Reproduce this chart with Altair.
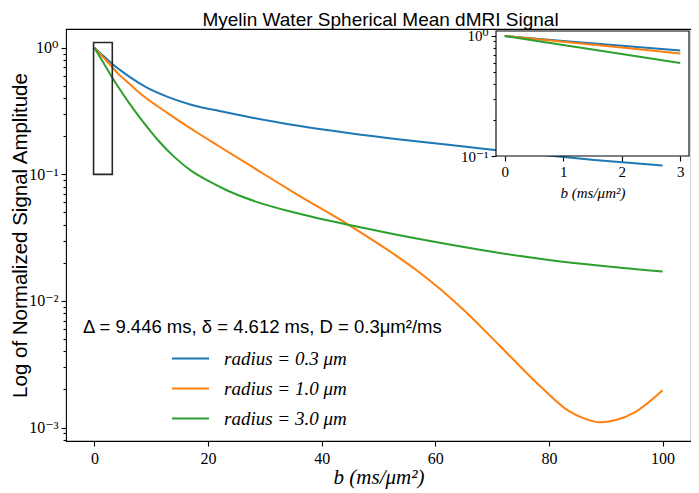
import altair as alt
import pandas as pd

# ---------------- data ----------------
series_names = ["radius = 0.3 μm", "radius = 1.0 μm", "radius = 3.0 μm"]
series_colors = ["#1f77b4", "#ff7f0e", "#2ca02c"]

b_r03 = [0, 1, 2, 3, 4.5, 6, 9, 13, 17, 22, 28, 35, 45, 55, 65, 75, 88, 100]
s_r03 = [1.0, 0.910, 0.828, 0.755, 0.668, 0.596, 0.490, 0.407, 0.355, 0.316,
         0.279, 0.245, 0.211, 0.186, 0.166, 0.148, 0.130, 0.1175]

b_r10 = [0, 1, 2, 3, 4.2, 6, 8.3, 13, 18.2, 21.7, 28.7, 35.7, 45.3, 53.1,
         57, 61, 65, 69, 73, 78.8, 83.4, 86.4, 89, 91.6, 95.1, 100]
s_r10 = [1.0, 0.893, 0.800, 0.714, 0.622, 0.527, 0.427, 0.302, 0.212,
         0.169, 0.108, 0.0692, 0.0385, 0.0228, 0.01706, 0.01225, 0.00847,
         0.00565, 0.00372, 0.00205, 0.00136, 0.00117, 0.00110, 0.00114,
         0.00132, 0.00197]

b_r30 = [0, 1, 2, 3, 4.2, 6, 8.3, 11.2, 14, 17, 20, 23, 28.7, 35, 45.3, 53, 62,
         70, 80, 90, 100]
s_r30 = [1.0, 0.841, 0.708, 0.596, 0.490, 0.372, 0.269, 0.186, 0.138, 0.107,
         0.0891, 0.0759, 0.0603, 0.0501, 0.0394, 0.0335, 0.0282, 0.0245,
         0.0211, 0.0188, 0.0171]

x_ticks = [0, 20, 40, 60, 80, 100]
y_ticks = [1, 0.1, 0.01, 0.001]
y_minor = [k * 10.0 ** e for e in (-4, -3, -2, -1) for k in range(2, 10)]

inset_x_ticks = [0, 1, 2, 3]
inset_y_ticks = [1, 0.1]
inset_y_minor = [0.2, 0.3, 0.4, 0.5, 0.6, 0.7, 0.8, 0.9]

main_xlim = [-5, 105]
main_ylim = [0.000783, 1.406]
inset_xlim = [-0.15, 3.15]
inset_ylim = [0.1, 1.1]

title_text = "Myelin Water Spherical Mean dMRI Signal"
y_title = "Log of Normalized Signal Amplitude"
x_title = "b (ms/μm²)"
annot_text = "Δ = 9.446 ms, δ = 4.612 ms, D = 0.3μm²/ms"

# ---------------- tables ----------------
rows = []
for name, bs, ss in zip(series_names, [b_r03, b_r10, b_r30], [s_r03, s_r10, s_r30]):
    for b, s in zip(bs, ss):
        rows.append({"b": b, "signal": s, "series": name})
df = pd.DataFrame(rows)
inset_df = df[df["b"] <= 3].reset_index(drop=True)
lim_df = pd.DataFrame({"x0": [inset_xlim[0]], "x1": [inset_xlim[1]],
                       "y0": [inset_ylim[0]], "y1": [inset_ylim[1]]})
annot_df = pd.DataFrame({"t": [annot_text]})
title_df = pd.DataFrame({"t": [title_text]})

# ---------------- geometry / style ----------------
W, H = 625, 412
INSET_X = [430, 623]
INSET_Y = [127, 2]
SERIF = "Liberation Serif, DejaVu Serif, serif"
SANS = "Liberation Sans, Arial, sans-serif"

sup_expr = ("'10' + (round(log(datum.value)/LN10) == 0 ? '⁰' : "
            "round(log(datum.value)/LN10) == -1 ? '⁻¹' : "
            "round(log(datum.value)/LN10) == -2 ? '⁻²' : '⁻³')")


def xs():
    return alt.Scale(domain=main_xlim, nice=False, zero=False)


def ys():
    return alt.Scale(type="log", domain=main_ylim, nice=False)


def ixs():
    return alt.Scale(domain=inset_xlim, range=INSET_X, nice=False, zero=False)


def iys():
    return alt.Scale(type="log", domain=inset_ylim, range=INSET_Y, nice=False)


cs = alt.Scale(domain=series_names, range=series_colors)

tick_style = dict(tickColor="black", tickWidth=1.1, domain=False, grid=False,
                  labelColor="black", labelFont=SERIF)

# ---------------- main panel ----------------
main_lines = alt.Chart(df).mark_line(strokeWidth=2, interpolate="monotone").encode(
    x=alt.X("b:Q", scale=xs(),
            axis=alt.Axis(orient="bottom", values=x_ticks, tickSize=5, labelFontSize=16,
                          labelPadding=4, title=x_title, titleFont=SERIF,
                          titleFontStyle="italic", titleFontWeight="normal",
                          titleFontSize=21, titleColor="black", titlePadding=0,
                          **tick_style)),
    y=alt.Y("signal:Q", scale=ys(),
            axis=alt.Axis(orient="left", values=y_ticks, labelExpr=sup_expr, tickSize=5,
                          labelFontSize=16, labelPadding=3,
                          title=y_title, titleFont=SANS, titleFontWeight="normal",
                          titleFontSize=20.5, titleColor="black", titleAngle=-90,
                          titleX=-46, titleY=H / 2, titleBaseline="middle",
                          titleAlign="center", **tick_style)),
    color=alt.Color("series:N", scale=cs,
                    legend=alt.Legend(orient="none", legendX=105, legendY=310, title=None,
                                      symbolType="stroke", symbolSize=1369,
                                      symbolStrokeWidth=2, labelFont=SERIF,
                                      labelFontStyle="italic", labelFontSize=19,
                                      labelColor="black", labelOffset=14,
                                      rowPadding=0, padding=0)),
)

main_minor = alt.Chart(df).mark_point(opacity=0).encode(
    x=alt.X("b:Q", scale=xs(), axis=None),
    y=alt.Y("signal:Q", scale=ys(),
            axis=alt.Axis(orient="left", values=y_minor, labels=False, tickSize=3,
                          title=None, **tick_style)),
)

zoom_box = alt.Chart(lim_df).mark_rect(fillOpacity=0, stroke="#262626", strokeWidth=1.6).encode(
    x=alt.X("x0:Q", scale=xs(), axis=None), x2="x1:Q",
    y=alt.Y("y0:Q", scale=ys(), axis=None), y2="y1:Q",
)

annot = alt.Chart(annot_df).mark_text(align="left", baseline="middle", font=SANS,
                                      fontSize=18.5, color="black").encode(
    text="t:N", x=alt.value(17), y=alt.value(297.5)
)

title = alt.Chart(title_df).mark_text(align="center", baseline="alphabetic", font=SANS,
                                      fontSize=19, color="black").encode(
    text="t:N", x=alt.value(W / 2 + 2), y=alt.value(-3.5)
)

# ---------------- inset panel ----------------
inset_bg = alt.Chart(lim_df).mark_rect(fill="white", stroke="black", strokeWidth=1.1).encode(
    x=alt.X("x0:Q", scale=ixs(), axis=None), x2="x1:Q",
    y=alt.Y("y0:Q", scale=iys(), axis=None), y2="y1:Q",
)

inset_lines = alt.Chart(inset_df).mark_line(strokeWidth=2).encode(
    x=alt.X("b:Q", scale=ixs(),
            axis=alt.Axis(orient="bottom", offset=INSET_Y[0] - H, values=inset_x_ticks,
                          tickSize=5, labelFontSize=15, labelPadding=3,
                          title=x_title, titleFont=SERIF, titleFontStyle="italic",
                          titleFontWeight="normal", titleFontSize=15, titleColor="black",
                          titlePadding=6, **tick_style)),
    y=alt.Y("signal:Q", scale=iys(),
            axis=alt.Axis(orient="left", offset=-INSET_X[0], values=inset_y_ticks,
                          labelExpr=sup_expr, tickSize=5, labelFontSize=15,
                          labelPadding=3, title=None, **tick_style)),
    color=alt.Color("series:N", scale=cs, legend=None),
)

inset_minor = alt.Chart(inset_df).mark_point(opacity=0).encode(
    x=alt.X("b:Q", scale=ixs(), axis=None),
    y=alt.Y("signal:Q", scale=iys(),
            axis=alt.Axis(orient="left", offset=-INSET_X[0], values=inset_y_minor,
                          labels=False, tickSize=3, title=None, **tick_style)),
)

chart = alt.layer(
    main_lines, main_minor, zoom_box, annot, title, inset_bg, inset_lines, inset_minor
).resolve_scale(x="independent", y="independent").properties(
    width=W, height=H,
    autosize=alt.AutoSizeParams(type="none"),
    padding={"left": 58, "top": 21, "right": 0, "bottom": 56},
).configure(background="white").configure_view(stroke="black", strokeWidth=1.1)

chart.save("out.html", embed_options={"renderer": "svg", "actions": False})
